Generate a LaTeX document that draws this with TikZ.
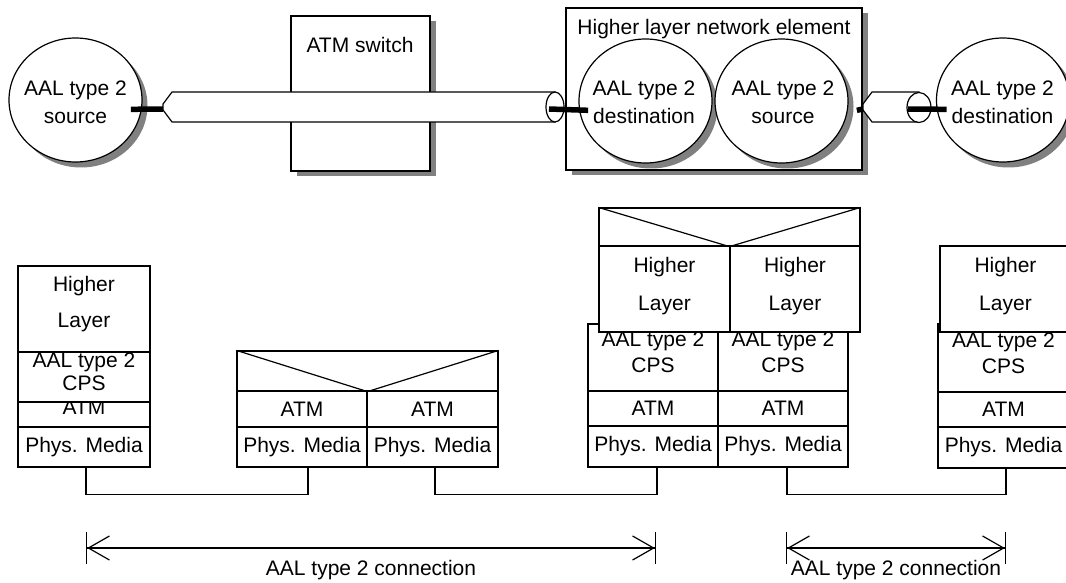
\documentclass[tikz,border=0pt]{standalone}
\usepackage{fontspec}
\setmainfont{Liberation Sans}
\usetikzlibrary{arrows.meta, positioning, shapes.geometric, shadows}

\begin{document}
\begin{tikzpicture}[x=1pt, y=-1pt, line width=1.2pt, font=\fontsize{21}{25}\selectfont,
	shadowed/.style={drop shadow={opacity=1, fill=gray, shadow xshift=5.5pt, shadow yshift=-5.5pt}},
	endpt/.style={ellipse, draw, fill=white, shadowed, inner sep=0pt, minimum width=133pt, minimum height=124pt},
	box/.style={rectangle, draw, fill=white, shadowed, inner sep=0pt},
	cell/.style={rectangle, draw, fill=white, inner sep=0pt, align=center},
	stub/.style={line width=5.5pt},
	conn/.style={{Bar[width=32pt]Straight Barb[length=21pt,width=24pt]}-{Straight Barb[length=21pt,width=24pt]Bar[width=32pt]}}]
	\useasboundingbox (0,0) rectangle (1066,583);

	\node[box, minimum width=139pt, minimum height=155pt] (sw) at (360.5,93.5) {};
	\node (swtxt) at (360,45) {ATM switch};
	\node[box, minimum width=296pt, minimum height=162pt] (hne) at (714,89) {};
	\node (hnetxt) at (714,29) {Higher layer network element};

	\node[endpt] (src) at (75.5,100) {};
	\node[endpt] (hdst) at (645.5,101) {};
	\node[endpt] (hsrc) at (781.5,101) {};
	\node[endpt] (dst) at (1003,100) {};
	\node[align=center] (srctxt) at (75.5,102) {AAL type 2\\[3pt]source};
	\node[align=center] (hdsttxt) at (644,102) {AAL type 2\\[3pt]destination};
	\node[align=center] (hsrctxt) at (783,102) {AAL type 2\\[3pt]source};
	\node[align=center] (dsttxt) at (1002.5,102) {AAL type 2\\[3pt]destination};

	\draw[fill=white] (172,92) -- (555,92) -- (555,122) -- (172,122) -- (163,110) -- (163,104) -- cycle;
	\draw[fill=white] (555,107) ellipse [x radius=9pt, y radius=15pt];
	\draw[fill=white] (872,92) -- (919,92) -- (919,122) -- (872,122) -- (863,110) -- (863,104) -- cycle;
	\draw[fill=white] (919,107.5) ellipse [x radius=12pt, y radius=15pt];
	\coordinate (p1w) at (163,109);
	\coordinate (p1e) at (555,109);
	\coordinate (p2w) at (863,109);
	\coordinate (p2e) at (919,109);

	\draw[stub] ([xshift=-11pt]src.-8) -- (p1w);
	\draw[stub] ([xshift=-6pt]p1e) -- ([xshift=9pt]hdst.188);
	\draw[stub] ([xshift=9pt]hsrc.-8) -- (p2w);
	\draw[stub] ([xshift=-11pt]p2e) -- ([xshift=10pt]dst.188);

	\node[cell, minimum width=132pt, minimum height=40pt] (lphys) at (84,447) {Phys. Media};
	\node[cell, minimum width=132pt, minimum height=25pt, text height=0pt, text depth=0pt] (latm) at (84,414.5) {ATM};
	\node[cell, minimum width=132pt, minimum height=50pt, text depth=11.5pt] (lcps) at (84,377) {AAL type 2\\[-2pt]CPS};
	\node[cell, minimum width=132pt, minimum height=86pt, text depth=13.4pt] (lhl) at (84,309) {Higher\\[11pt]Layer};

	\node[cell, minimum width=261pt, minimum height=40pt] (swtop) at (367.5,371) {};
	\draw (swtop.north west) -- (swtop.south) -- (swtop.north east);
	\node[cell, minimum width=130pt, minimum height=36pt] (swatml) at (302,409) {ATM};
	\node[cell, minimum width=131pt, minimum height=36pt] (swatmr) at (432.5,409) {ATM};
	\node[cell, minimum width=130pt, minimum height=40pt] (swphysl) at (302,447) {Phys. Media};
	\node[cell, minimum width=131pt, minimum height=40pt] (swphysr) at (432.5,447) {Phys. Media};

	\node[cell, minimum width=130pt, minimum height=41pt] (hephysl) at (653,446.5) {Phys. Media};
	\node[cell, minimum width=130pt, minimum height=41pt] (hephysr) at (783,446.5) {Phys. Media};
	\node[cell, minimum width=130pt, minimum height=35pt] (heatml) at (653,408.5) {ATM};
	\node[cell, minimum width=130pt, minimum height=35pt] (heatmr) at (783,408.5) {ATM};
	\node[cell, minimum width=130pt, minimum height=67pt, text depth=10pt] (hecpsl) at (653,357.5) {AAL type 2\\[1pt]CPS};
	\node[cell, minimum width=130pt, minimum height=67pt, text depth=10pt] (hecpsr) at (783,357.5) {AAL type 2\\[1pt]CPS};
	\node[cell, minimum width=131pt, minimum height=86pt, text depth=10.4pt] (hehll) at (664.5,289) {Higher\\[13pt]Layer};
	\node[cell, minimum width=130pt, minimum height=86pt, text depth=10.4pt] (hehlr) at (795,289) {Higher\\[13pt]Layer};
	\node[cell, minimum width=261pt, minimum height=38pt] (hetop) at (729.5,227) {};
	\draw (hetop.north west) -- (hetop.south) -- (hetop.north east);

	\node[cell, minimum width=131pt, minimum height=41pt] (rphys) at (1003.5,447.5) {Phys. Media};
	\node[cell, minimum width=131pt, minimum height=35pt] (ratm) at (1003.5,409.5) {ATM};
	\node[cell, minimum width=131pt, minimum height=68pt, text depth=10pt] (rcps) at (1003.5,358) {AAL type 2\\[1pt]CPS};
	\node[cell, minimum width=131pt, minimum height=86pt, text depth=10.4pt] (rhl) at (1005.5,289) {Higher\\[13pt]Layer};

	\draw ([xshift=2pt]lphys.south) -- ++(0,27) -| ([xshift=6pt]swphysl.south);
	\draw ([xshift=2.5pt]swphysr.south) -- ++(0,27) -| ([xshift=4pt]hephysl.south);
	\draw ([xshift=4pt]hephysr.south) -- ++(0,27) -| ([xshift=2.5pt]rphys.south);

	\coordinate (c1a) at (86,548);
	\coordinate (c1b) at (656,548);
	\coordinate (c2a) at (786,548);
	\coordinate (c2b) at (1006,548);
	\draw[conn] (c1a) -- node[anchor=north, yshift=-8pt] (c1txt) {AAL type 2 connection} (c1b);
	\draw[conn] (c2a) -- node[anchor=north, yshift=-8pt] (c2txt) {AAL type 2 connection} (c2b);
\end{tikzpicture}
\end{document}
